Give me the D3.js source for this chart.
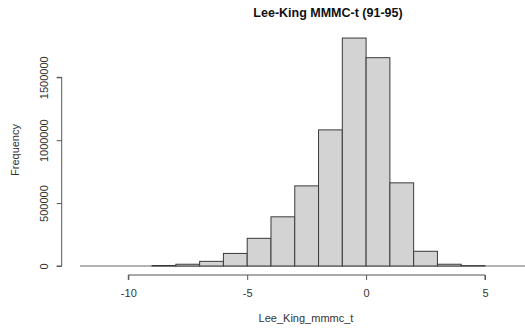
<!DOCTYPE html>
<html>
<head>
<meta charset="utf-8">
<script src="https://cdn.jsdelivr.net/npm/d3@7"></script>
<style>
  body { margin: 0; background: #fff; }
  text { font-family: "Liberation Sans", Arial, sans-serif; }
</style>
</head>
<body>
<div class="graph"></div>
<script>
// histogram bins (left edge, width 1) and counts
const binStarts = [-9, -8, -7, -6, -5, -4, -3, -2, -1, 0, 1, 2, 3, 4];
const counts = [4000, 14000, 37000, 100000, 220000, 391000, 637000, 1082000, 1812000, 1656000, 661000, 117000, 14000, 3000];
const xTicks = [-10, -5, 0, 5];
const yTicks = [0, 500000, 1000000, 1500000];

const width = 525, height = 330;

const svg = d3.select('.graph').append('svg')
  .attr('width', width)
  .attr('height', height);

const x = d3.scaleLinear().domain([-10, 5]).range([128.3, 485]);
const y = d3.scaleLinear().domain([0, 1500000]).range([266, 77.3]);

// gray zero line across the plot region
svg.append('line')
  .attr('x1', 80).attr('x2', 525)
  .attr('y1', y(0)).attr('y2', y(0))
  .attr('stroke', '#9a9a9a')
  .attr('stroke-width', 1.3);

// bars
svg.append('g')
  .selectAll('rect')
  .data(binStarts.map((b, i) => ({ b, c: counts[i] })))
  .join('rect')
  .attr('x', d => x(d.b))
  .attr('width', d => x(d.b + 1) - x(d.b))
  .attr('y', d => y(d.c))
  .attr('height', d => y(0) - y(d.c))
  .attr('fill', '#d3d3d3')
  .attr('stroke', '#3a3a3a')
  .attr('stroke-width', 1);

// x axis (R style: ticks below a line spanning the tick range)
const xAxis = svg.append('g')
  .attr('transform', 'translate(0,275)')
  .call(d3.axisBottom(x).tickValues(xTicks).tickSize(5).tickPadding(9).tickFormat(d3.format('d')));
xAxis.select('.domain').attr('d', `M${x(-10)},5V0H${x(5)}V5`).attr('stroke', '#555');
xAxis.selectAll('.tick line').attr('stroke', '#555');
xAxis.selectAll('.tick text')
  .attr('fill', '#333')
  .attr('font-size', 11)
  .text(d => d < 0 ? '-' + Math.abs(d) : d);

// y axis
const yAxis = svg.append('g')
  .attr('transform', 'translate(61.7,0)')
  .call(d3.axisLeft(y).tickValues(yTicks).tickSize(5).tickFormat(d3.format('d')));
yAxis.select('.domain').attr('d', `M-5,${y(0)}H0V${y(1500000)}H-5`).attr('stroke', '#555');
yAxis.selectAll('.tick line').attr('stroke', '#555');
yAxis.selectAll('.tick text')
  .attr('fill', '#333')
  .attr('font-size', 11)
  .attr('x', 0)
  .attr('dy', 0)
  .attr('text-anchor', 'middle')
  .attr('transform', 'translate(-14,0) rotate(-90)');

// titles
svg.append('text')
  .attr('x', 328).attr('y', 17)
  .attr('text-anchor', 'middle')
  .attr('font-size', 12.5)
  .attr('font-weight', 'bold')
  .attr('fill', '#111')
  .text('Lee-King MMMC-t (91-95)');

svg.append('text')
  .attr('x', 306).attr('y', 322)
  .attr('text-anchor', 'middle')
  .attr('font-size', 11)
  .attr('fill', '#333')
  .text('Lee_King_mmmc_t');

svg.append('text')
  .attr('transform', 'translate(19,150) rotate(-90)')
  .attr('text-anchor', 'middle')
  .attr('font-size', 11)
  .attr('fill', '#333')
  .text('Frequency');
</script>
</body>
</html>
